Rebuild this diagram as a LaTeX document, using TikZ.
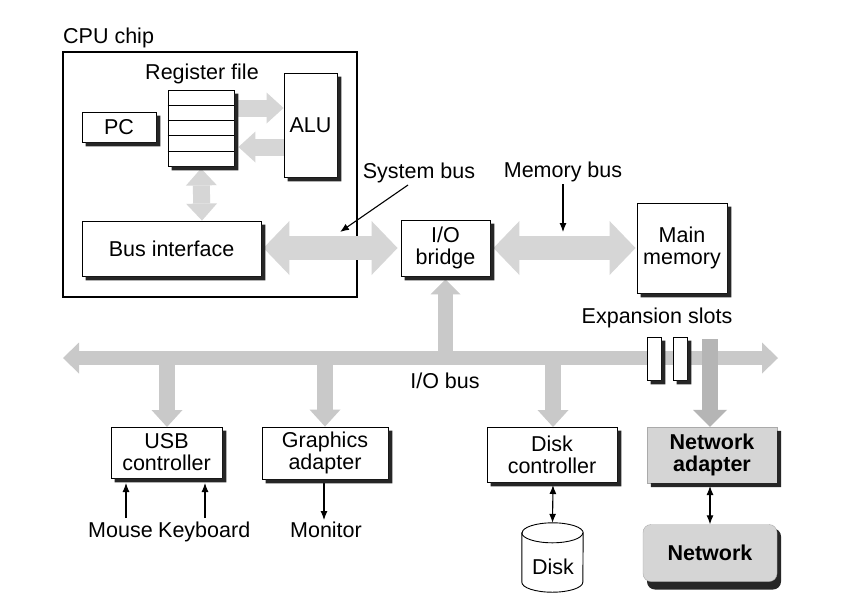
\documentclass[tikz,border=0pt]{standalone}
\usepackage{fontspec}
\setmainfont{Liberation Sans}
\usetikzlibrary{arrows.meta,calc}
\definecolor{fatlight}{HTML}{D6D6D6}
\definecolor{fatmid}{HTML}{C9C9C9}
\definecolor{fatdark}{HTML}{B5B5B5}
\definecolor{netgray}{HTML}{D5D5D5}
\tikzset{
  box/.style={draw=black,line width=0.9pt,fill=white,inner sep=0pt,align=center},
  graybox/.style={draw=netgray!80!black,line width=0.4pt,fill=netgray,inner sep=0pt,align=center,font=\fontsize{21.5}{25}\selectfont\bfseries},
  lbl/.style={inner sep=0pt,align=center},
  shadowfill/.style={fill=black!85,draw=none},
  thinarrow/.style={line width=1.1pt,-{Latex[length=9pt,width=7pt]}},
  thindbl/.style={line width=1.1pt,{Latex[length=9pt,width=7pt]}-{Latex[length=9pt,width=7pt]}},
  fatsmall/.style={fatlight,line width=17pt,-{Triangle[length=17pt,width=31pt,line width=0pt]}},
  fatsmalldbl/.style={fatlight,line width=17pt,{Triangle[length=17pt,width=31pt,line width=0pt]}-{Triangle[length=17pt,width=31pt,line width=0pt]}},
  fatbig/.style={fatlight,line width=24pt,{Triangle[length=26pt,width=54pt,line width=0pt]}-{Triangle[length=26pt,width=54pt,line width=0pt]}},
  fatbus/.style={fatmid,line width=14pt,{Triangle[length=16pt,width=31pt,line width=0pt]}-{Triangle[length=16pt,width=31pt,line width=0pt]}},
  fatdrop/.style={fatmid,line width=16pt,-{Triangle[length=17pt,width=31pt,line width=0pt]}},
}
\newcommand{\boxshadow}[1]{%
  \fill[shadowfill] ($(#1.north east)+(0,4)$) -- ($(#1.north east)+(4,4)$) -- ($(#1.south east)+(4,4)$)
    -- ($(#1.south west)+(4,4)$) -- ($(#1.south west)+(4,0)$) -- (#1.south east) -- cycle;}
\begin{document}
\begin{tikzpicture}[x=1pt,y=-1pt,font=\fontsize{21.5}{25}\selectfont]
\fill[white] (0,0) rectangle (848,606);
\useasboundingbox (0,0) rectangle (848,606);

% CPU chip
\node[draw=black,line width=1.4pt,minimum width=294pt,minimum height=245pt,inner sep=0pt] (cpu) at (210,174.5) {};
\node[lbl,anchor=west] (cpulbl) at (63,38) {CPU chip};

% register file
\node[box,minimum width=66pt,minimum height=76pt] (regfile) at (201,128) {};
\foreach \i in {1,...,4}{
  \draw[line width=0.6pt] ($(regfile.north west)!\i/5!(regfile.south west)$) -- ($(regfile.north east)!\i/5!(regfile.south east)$);
}
\node[lbl] (reglbl) at (202,74) {Register file};

\node[box,minimum width=53pt,minimum height=104pt] (alu) at (310.5,125) {ALU};
\node[box,minimum width=74pt,minimum height=30pt] (pc) at (119,127) {PC};
\node[box,minimum width=179pt,minimum height=55pt] (busif) at (171.5,248.5) {Bus interface};

% internal fat arrows
\draw[fatsmall] ([xshift=4pt,yshift=20pt]regfile.east) -- ([yshift=20pt]regfile.east -| alu.west);
\draw[fatsmall] ([yshift=-19pt]regfile.east -| alu.west) -- ([xshift=4pt,yshift=-19pt]regfile.east);
\draw[fatsmalldbl] ([yshift=-2pt]regfile.south) -- ([xshift=1pt]busif.north -| regfile.south);

% bridge, memory
\node[box,minimum width=89pt,minimum height=56pt] (bridge) at (445.5,248) {I/O\\[-3pt]bridge};
\node[box,minimum width=90pt,minimum height=90pt] (mem) at (682,248) {Main\\[-3pt]memory};

% system bus and memory bus
\draw[fatbig] ([xshift=2pt,yshift=0.5pt]busif.east) -- ([xshift=-3pt]bridge.west);
\draw[fatbig] ([xshift=3pt]bridge.east) -- ([xshift=-1pt]mem.west);

\node[lbl] (sysbus) at (419,173) {System bus};
\coordinate (sbpt) at (340,232);
\draw[thinarrow] (408,185) -- (sbpt);
\node[lbl] (membus) at (563,172) {Memory bus};
\coordinate (mbpt) at (563,232);
\draw[thinarrow] (membus.south) ++(0,2) -- (mbpt);

% I/O bus
\coordinate (busL) at (63,358);
\coordinate (busR) at (778,358);
\draw[fatbus] (busL) -- (busR);
\draw[fatmid,line width=15pt,-{Triangle[length=15pt,width=30pt,line width=0pt]}] (bridge.south |- busL) -- ([yshift=-3pt]bridge.south);
\node[lbl] (iobus) at (445,381) {I/O bus};

% expansion slots
\node[lbl] (explbl) at (657,318) {Expansion slots};
\node[box,line width=0.8pt,minimum width=14pt,minimum height=43pt] (slot1) at (654,358.5) {};
\node[box,line width=0.8pt,minimum width=14pt,minimum height=43pt] (slot2) at (680,358.5) {};

% devices
\node[box,minimum width=111pt,minimum height=51pt] (usb) at (166.5,452.5) {USB\\[-3pt]controller};
\node[box,minimum width=126pt,minimum height=52pt] (gfx) at (325,453) {Graphics\\[-3pt]adapter};
\node[box,minimum width=130pt,minimum height=55pt] (diskc) at (552,454.5) {Disk\\[-3pt]controller};
\node[graybox,minimum width=130pt,minimum height=56pt] (netad) at (712,455) {Network\\[-3pt]adapter};

\draw[fatdrop] (167,358) -- (167,427);
\draw[fatdrop] (325,358) -- (gfx.north);
\draw[fatdrop] (553,358) -- (553,427);
\coordinate (nb) at (710,339);
\draw[fatdark,line width=16pt,-{Triangle[length=17pt,width=34pt,line width=0pt]}] (nb) -- (nb |- netad.north);

% peripherals
\node[lbl,anchor=base west] (mouse) at (88,537) {Mouse};
\node[lbl,anchor=base west] (kbd) at (158,537) {Keyboard};
\node[lbl,anchor=base] (monitor) at (326,537) {Monitor};
\draw[thinarrow] (126,518) -- (126,483);
\draw[thinarrow] (205,518) -- (205,483);
\draw[thinarrow] (324,482) -- (324,520);

% disk (cylinder)
\node[inner sep=0pt,minimum width=61pt,minimum height=69pt] (disk) at (552.5,557.5) {};
\draw[line width=0.9pt,fill=white]
  ($(disk.north west)+(0,10)$) -- ($(disk.south west)+(0,-10)$)
  arc[start angle=180,end angle=0,x radius=30.5,y radius=10]
  -- ($(disk.north east)+(0,10)$)
  arc[start angle=0,end angle=-180,x radius=30.5,y radius=10] -- cycle;
\draw[line width=0.9pt] ($(disk.north west)+(0,10)$) arc[start angle=180,end angle=0,x radius=30.5,y radius=10];
\node[lbl] (disklbl) at (553,567) {Disk};
\draw[thindbl] (553,485) -- (disk.north);

\fill[shadowfill,rounded corners=8pt] ($(710,553)+(-63,-24.5)$) rectangle ($(710,553)+(71,36.5)$);
\node[graybox,rounded corners=8pt,minimum width=134pt,minimum height=57pt] (net) at (710,553) {Network};
\draw[thindbl] (710,486) -- (net.north);

% drop shadows
\foreach \n in {regfile,alu,pc,busif,bridge,mem,slot1,slot2,usb,gfx,diskc,netad}{
  \boxshadow{\n}
}
\end{tikzpicture}
\end{document}
